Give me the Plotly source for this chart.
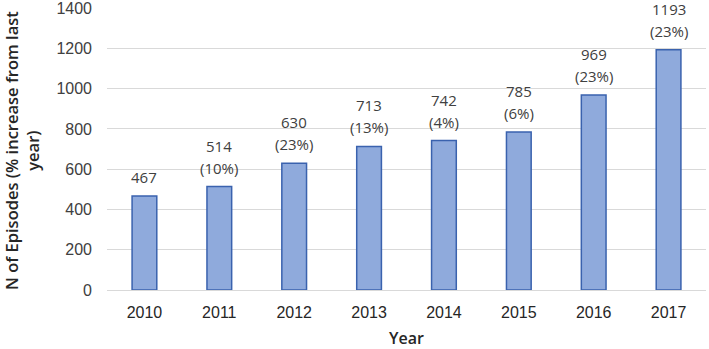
import plotly.graph_objects as go

years = ["2010", "2011", "2012", "2013", "2014", "2015", "2016", "2017"]
episodes = [467, 514, 630, 713, 742, 785, 969, 1193]
pct_increase = [None, 10, 23, 13, 4, 6, 23, 23]
y_ticks = [0, 200, 400, 600, 800, 1000, 1200, 1400]

fig = go.Figure()
fig.add_trace(go.Bar(
    x=years, y=episodes, width=0.33,
    marker=dict(color="#8FAADC", line=dict(color="#3A62AE", width=1.5)),
    hoverinfo="x+y",
))

label_font = dict(family="Open Sans", size=15, color="#404040")
for i, (v, p) in enumerate(zip(episodes, pct_increase)):
    if p is None:
        fig.add_annotation(x=i, y=v, text=str(v), showarrow=False,
                           yanchor="middle", yshift=19, font=label_font)
    else:
        fig.add_annotation(x=i, y=v, text=f"({p}%)", showarrow=False,
                           yanchor="middle", yshift=19, font=label_font)
        fig.add_annotation(x=i, y=v, text=str(v), showarrow=False,
                           yanchor="middle", yshift=41, font=label_font)

fig.add_annotation(xref="paper", yref="paper", x=0, y=0.5, xshift=-85, yshift=-2,
                   text="N of Episodes (% increase from last<br>year)",
                   textangle=-90, showarrow=False, xanchor="center", yanchor="middle",
                   font=dict(family="Open Sans", size=16.5, color="#262626", weight=600))

fig.update_layout(
    width=709, height=349,
    margin=dict(l=107, r=3, t=8, b=59),
    paper_bgcolor="white", plot_bgcolor="white",
    showlegend=False,
    autotypenumbers="strict",
    xaxis=dict(
        type="category", automargin=False, range=[-0.5, 7.5],
        title=dict(text="Year", font=dict(family="Open Sans", size=16, color="#262626", weight=600), standoff=20),
        tickfont=dict(family="Liberation Sans", size=16, color="#262626"),
        showgrid=False, zeroline=False, showline=False, ticks="", ticklabelstandoff=11,
    ),
    yaxis=dict(
        range=[0, 1400.5], tickvals=y_ticks, automargin=False,
        tickfont=dict(family="Liberation Sans", size=16, color="#404040"),
        showgrid=True, gridcolor="#D9D9D9", gridwidth=1,
        zeroline=True, zerolinecolor="#D9D9D9", zerolinewidth=1,
        showline=False, ticks="", ticklabelstandoff=14, ticklabeloverflow="allow",
    ),
)

fig.write_html("out.html", config={"displayModeBar": False},
               post_script="document.body.style.margin='0';")
